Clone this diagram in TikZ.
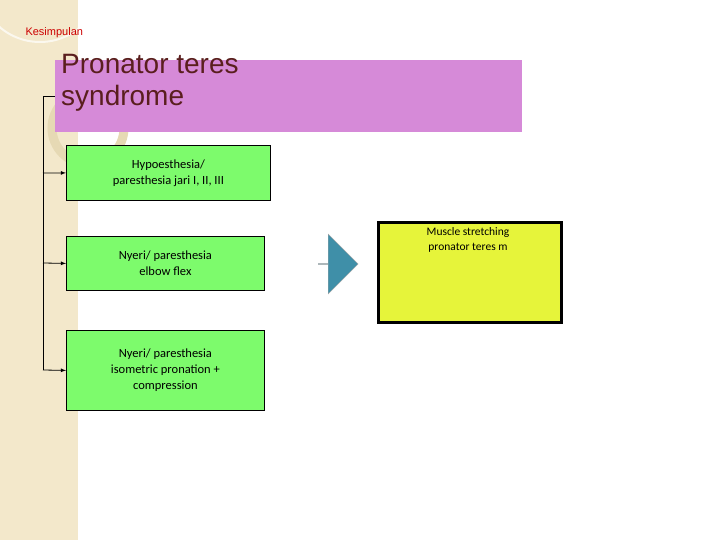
\documentclass[tikz,border=0pt]{standalone}
\usepackage{fontspec}
\setmainfont{Carlito}
\newfontfamily\arialfont{Liberation Sans}
\usetikzlibrary{shapes.arrows}
\definecolor{stripbg}{HTML}{F3E8CB}
\definecolor{ringc}{HTML}{E6D9B4}
\definecolor{titlebg}{HTML}{D68AD8}
\definecolor{titlefg}{HTML}{5A1E1E}
\definecolor{boxgreen}{HTML}{7DFB6C}
\definecolor{boxyellow}{HTML}{E6F43A}
\definecolor{arrowc}{HTML}{3F8FA8}
\tikzset{
	greenbox/.style={draw=black, thick, fill=boxgreen, align=center, font=\fontsize{12.5}{16}\selectfont, anchor=north west, inner sep=0pt},
	branch/.style={-latex, thick}
}
\begin{document}
\begin{tikzpicture}[x=1pt, y=-1pt]
	\useasboundingbox (0,0) rectangle (720,540);
	% background strip
	\fill[stripbg] (0,0) rectangle (78,540);
	\draw[white, line width=2pt, opacity=0.7] (40,-20) circle (62);
	\draw[ringc, line width=9pt] (88,128) circle (36);
	\node[anchor=west, text=red!80!black, font=\arialfont\fontsize{11}{13}\selectfont] (kes) at (22,33) {Kesimpulan};
	% title
	\fill[titlebg] (55,60) rectangle (522,132);
	\node[anchor=north west, text=titlefg, align=left, inner sep=0pt, font=\arialfont\fontsize{28}{32}\selectfont] (title) at (61,54) {Pronator teres\\syndrome};
	% boxes
	\node[greenbox, minimum width=204pt, minimum height=55pt] (hypo) at (66,145) {Hypoesthesia/\\paresthesia jari I, II, III};
	\node[greenbox, minimum width=198pt, minimum height=54pt] (elbow) at (66,236) {Nyeri/ paresthesia\\elbow flex};
	\node[greenbox, minimum width=198pt, minimum height=80pt] (prona) at (66,330) {Nyeri/ paresthesia\\isometric pronation +\\compression};
	% bracket
	\coordinate (top) at (55,96);
	\coordinate (corner) at (43,96);
	\draw[thick] (top) -- (corner) -- (43,370);
	\draw[branch] (43,173) -- (hypo.west);
	\draw[branch] (43,263) -- (elbow.west);
	\draw[branch] (43,370) -- (prona.west);
	% block arrow
	\node[single arrow, draw=gray!70, fill=arrowc, minimum width=60pt, minimum height=40pt, single arrow head extend=15pt, inner sep=0pt, anchor=west] (arr) at (318,264) {};
	% result
	\node[draw=black, line width=3pt, fill=boxyellow, minimum width=183pt, minimum height=100pt, anchor=north west] (res) at (377,221) {};
	\node[anchor=north, align=center, font=\fontsize{11.5}{15}\selectfont, inner sep=0pt] (restext) at (468,227) {Muscle stretching\\pronator teres m};
\end{tikzpicture}
\end{document}
